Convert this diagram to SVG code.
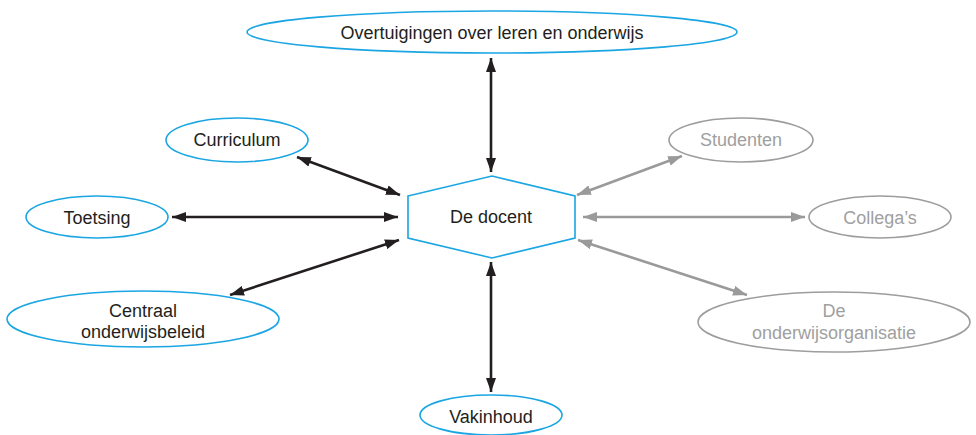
<svg xmlns="http://www.w3.org/2000/svg" width="976" height="435" viewBox="0 0 976 435">
<defs>
<style>
.blue{fill:#fff;stroke:#1ba6e3;stroke-width:1.6}
.grey{fill:#fff;stroke:#9d9d9d;stroke-width:1.6}
.t{font-family:"Liberation Sans",Arial,sans-serif;font-size:18px;fill:#231f20;text-anchor:middle}
.tg{font-family:"Liberation Sans",Arial,sans-serif;font-size:18px;fill:#a0a0a0;text-anchor:middle}
.cb{stroke:#231f20;stroke-width:2.6;fill:none;marker-start:url(#ab);marker-end:url(#ab)}
.cg{stroke:#9a9a9a;stroke-width:2.6;fill:none;marker-start:url(#ag);marker-end:url(#ag)}
</style>
<marker id="ab" viewBox="0 0 14 10" refX="14" refY="5" markerWidth="14" markerHeight="10" markerUnits="userSpaceOnUse" orient="auto-start-reverse">
<path d="M0,0 L14,5 L0,10 Z" fill="#231f20"/>
</marker>
<marker id="ag" viewBox="0 0 14 10" refX="14" refY="5" markerWidth="14" markerHeight="10" markerUnits="userSpaceOnUse" orient="auto-start-reverse">
<path d="M0,0 L14,5 L0,10 Z" fill="#9a9a9a"/>
</marker>
</defs>
<rect width="976" height="435" fill="#fff"/>
<g id="connectors">
<line class="cb" x1="491" y1="58" x2="491" y2="172"/>
<line class="cb" x1="297" y1="157" x2="400" y2="195"/>
<line class="cb" x1="172" y1="217" x2="398" y2="217"/>
<line class="cb" x1="230" y1="295" x2="399" y2="240"/>
<line class="cb" x1="491" y1="262" x2="491" y2="392"/>
<line class="cg" x1="682" y1="156" x2="577" y2="195"/>
<line class="cg" x1="583" y1="217" x2="805" y2="217"/>
<line class="cg" x1="578" y1="240" x2="747" y2="295"/>
</g>
<g id="overtuigingen">
<ellipse class="blue" cx="492" cy="32" rx="245" ry="21"/>
<text class="t" x="492" y="39">Overtuigingen over leren en onderwijs</text>
</g>
<g id="docent">
<polygon class="blue" points="408,196 492,176 575,196 575,238 492,258 408,238"/>
<text class="t" x="491" y="223">De docent</text>
</g>
<g id="curriculum">
<ellipse class="blue" cx="237" cy="140" rx="71" ry="22"/>
<text class="t" x="237" y="146">Curriculum</text>
</g>
<g id="toetsing">
<ellipse class="blue" cx="97" cy="217" rx="71" ry="21"/>
<text class="t" x="97" y="224">Toetsing</text>
</g>
<g id="centraal">
<ellipse class="blue" cx="143" cy="319" rx="136" ry="28"/>
<text class="t" x="143" y="317">Centraal</text>
<text class="t" x="143" y="338">onderwijsbeleid</text>
</g>
<g id="vakinhoud">
<ellipse class="blue" cx="491" cy="415" rx="71" ry="20"/>
<text class="t" x="491" y="423">Vakinhoud</text>
</g>
<g id="studenten">
<ellipse class="grey" cx="741" cy="140" rx="72" ry="22"/>
<text class="tg" x="741" y="146">Studenten</text>
</g>
<g id="collegas">
<ellipse class="grey" cx="880" cy="217" rx="71" ry="21"/>
<text class="tg" x="880" y="224">Collega’s</text>
</g>
<g id="organisatie">
<ellipse class="grey" cx="834" cy="322" rx="136" ry="30"/>
<text class="tg" x="834" y="317">De</text>
<text class="tg" x="834" y="339">onderwijsorganisatie</text>
</g>
</svg>
